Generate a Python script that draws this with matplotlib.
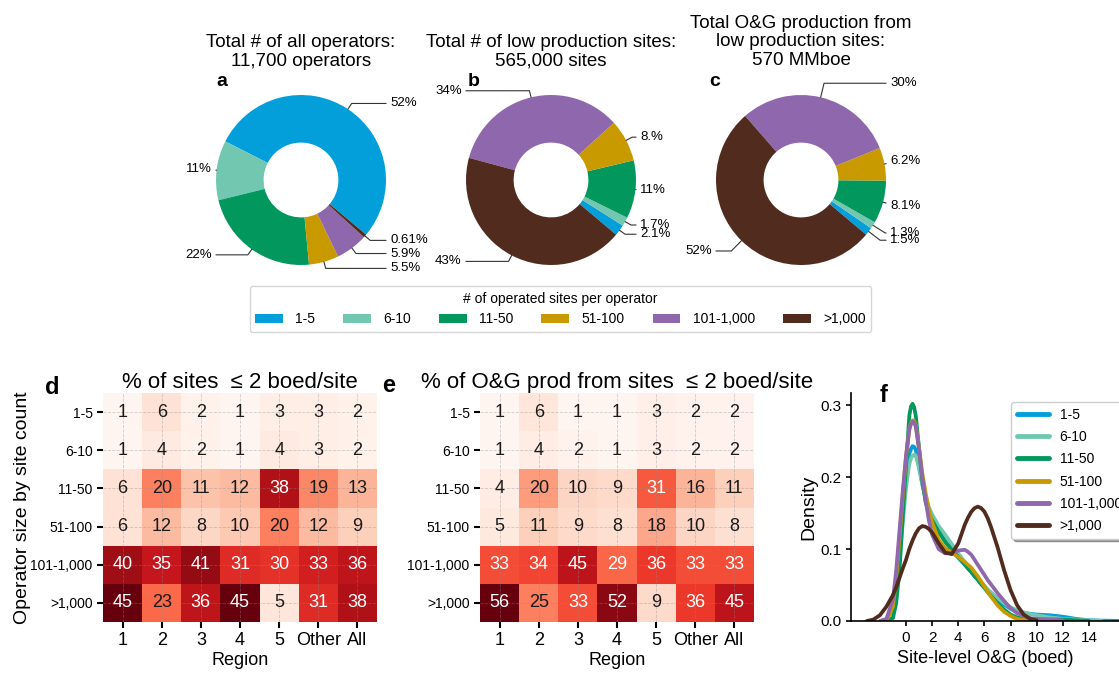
import numpy as np
import matplotlib
matplotlib.use("Agg")
import matplotlib.pyplot as plt
from matplotlib.patches import Patch

plt.rcParams['font.family'] = ['Liberation Sans', 'DejaVu Sans']

# ---- data ----
size_classes = ['1-5', '6-10', '11-50', '51-100', '101-1,000', '>1,000']
class_colors = ['#039fda', '#72c7b1', '#02985d', '#c99a00', '#8e67ac', '#512b1e']

share_operators = [52, 11, 22, 5.5, 5.9, 0.61]
share_sites = [2.1, 1.7, 11, 8, 34, 43]
share_production = [1.5, 1.3, 8.1, 6.2, 30, 52]

pie_titles = [
    'Total # of all operators:\n11,700 operators',
    'Total # of low production sites:\n565,000 sites',
    'Total O&G production from\nlow production sites:\n570 MMboe',
]

regions = ['1', '2', '3', '4', '5', 'Other', 'All']

pct_sites_low = [
    [1, 6, 2, 1, 3, 3, 2],
    [1, 4, 2, 1, 4, 3, 2],
    [6, 20, 11, 12, 38, 19, 13],
    [6, 12, 8, 10, 20, 12, 9],
    [40, 35, 41, 31, 30, 33, 36],
    [45, 23, 36, 45, 5, 31, 38],
]
pct_prod_low = [
    [1, 6, 1, 1, 3, 2, 2],
    [1, 4, 2, 1, 3, 2, 2],
    [4, 20, 10, 9, 31, 16, 11],
    [5, 11, 9, 8, 18, 10, 8],
    [33, 34, 45, 29, 36, 33, 33],
    [56, 25, 33, 52, 9, 36, 45],
]

# site-level production density curves (boed)
nan = np.nan
boed = [-3, -2.5, -2, -1.5, -1,
        -0.75, -0.5, -0.25, 0, 0.25,
        0.375, 0.5, 0.625, 0.75, 1,
        1.25, 1.5, 1.75, 2, 2.5,
        3, 3.5, 4, 4.5, 4.75,
        5, 5.25, 5.5, 5.75, 6,
        6.25, 6.5, 7, 7.5, 8,
        8.5, 9, 9.5, 10, 11,
        12, 13, 14, 15, 16,
        16.5]
dens_1_5 = [nan, nan, nan, 0.0, 0.018,
            0.05, 0.095, 0.148, 0.195, 0.232,
            0.239, 0.243, 0.242, 0.238, 0.215,
            0.19, 0.17, 0.155, 0.142, 0.125,
            0.111, 0.099, 0.088, 0.078, 0.073,
            0.068, 0.063, 0.058, 0.053, 0.048,
            0.043, 0.039, 0.030, 0.023, 0.017,
            0.013, 0.011, 0.010, 0.009, 0.008,
            0.006, 0.003, 0.001, 0.0005, 0.0002,
            0.0001]
dens_6_10 = [nan, nan, nan, 0.0, 0.015,
             0.043, 0.085, 0.135, 0.185, 0.218,
             0.226, 0.230, 0.231, 0.230, 0.212,
             0.19, 0.172, 0.158, 0.148, 0.132,
             0.120, 0.107, 0.094, 0.082, 0.076,
             0.070, 0.064, 0.059, 0.054, 0.049,
             0.044, 0.040, 0.032, 0.025, 0.019,
             0.015, 0.012, 0.010, 0.008, 0.005,
             0.003, 0.002, 0.001, 0.0, nan,
             nan]
dens_11_50 = [nan, nan, nan, 0.0, 0.004,
              0.025, 0.07, 0.145, 0.215, 0.285,
              0.298, 0.302, 0.297, 0.285, 0.24,
              0.195, 0.165, 0.15, 0.14, 0.124,
              0.11, 0.099, 0.089, 0.079, 0.073,
              0.068, 0.062, 0.057, 0.051, 0.046,
              0.040, 0.035, 0.025, 0.016, 0.009,
              0.005, 0.003, 0.002, 0.002, 0.002,
              0.002, 0.001, 0.0, nan, nan,
              nan]
dens_51_100 = [nan, nan, nan, 0.0, 0.02,
               0.06, 0.115, 0.175, 0.228, 0.266,
               0.275, 0.279, 0.278, 0.272, 0.24,
               0.205, 0.178, 0.155, 0.137, 0.113,
               0.101, 0.095, 0.089, 0.082, 0.078,
               0.074, 0.068, 0.062, 0.055, 0.048,
               0.041, 0.034, 0.022, 0.013, 0.007,
               0.003, 0.0015, 0.001, 0.0005, 0.0,
               nan, nan, nan, nan, nan,
               nan]
dens_101_1000 = [nan, nan, 0.0, 0.003, 0.03,
                 0.07, 0.125, 0.18, 0.23, 0.266,
                 0.274, 0.277, 0.276, 0.27, 0.238,
                 0.2, 0.168, 0.14, 0.12, 0.1,
                 0.094, 0.095, 0.098, 0.099, 0.096,
                 0.092, 0.085, 0.078, 0.071, 0.064,
                 0.057, 0.051, 0.039, 0.028, 0.018,
                 0.011, 0.007, 0.004, 0.003, 0.002,
                 0.001, nan, nan, nan, nan,
                 nan]
dens_over_1000 = [0.0, 0.002, 0.008, 0.02, 0.036,
                  0.047, 0.06, 0.073, 0.085, 0.1,
                  0.106, 0.112, 0.117, 0.122, 0.129,
                  0.132, 0.131, 0.128, 0.123, 0.108,
                  0.095, 0.093, 0.108, 0.134, 0.144,
                  0.152, 0.157, 0.159, 0.157, 0.152,
                  0.143, 0.131, 0.103, 0.071, 0.043,
                  0.022, 0.009, 0.003, 0.001, nan,
                  nan, nan, nan, nan, nan,
                  nan]
densities = [dens_1_5, dens_6_10, dens_11_50, dens_51_100, dens_101_1000, dens_over_1000]

# ---- layout helpers ----
W, H = 1119, 674
fig = plt.figure(figsize=(W / 100, H / 100), dpi=100)


def px_axes(left, top, right, bottom):
    return fig.add_axes([left / W, 1 - bottom / H, (right - left) / W, (bottom - top) / H])


def pct_label(v):
    s = f"{v:#.2g}".rstrip("0")
    if v >= 10:
        s = s.rstrip(".")
    return s + "%"


# ---- donut charts ----
pie_centers = [301, 551, 801]
pie_r = 85
title_y = [52, 52, 42]
label_yfac = [1.08, 1.08, 1.17]
letters = ['a', 'b', 'c']
letter_pos = [(222, 81), (474, 81), (715, 82)]

for k, vals in enumerate([share_operators, share_sites, share_production]):
    cx = pie_centers[k]
    ax = px_axes(cx - pie_r, 180 - pie_r, cx + pie_r, 180 + pie_r)
    wedges, _ = ax.pie(vals, colors=class_colors, startangle=-40, counterclock=True,
                       wedgeprops=dict(width=0.56, linewidth=0))
    ax.set_xlim(-1, 1)
    ax.set_ylim(-1, 1)
    ax.set_aspect('equal')
    for w, v in zip(wedges, vals):
        ang = (w.theta1 + w.theta2) / 2
        x, y = np.cos(np.deg2rad(ang)), np.sin(np.deg2rad(ang))
        ha = 'left' if x > 0 else 'right'
        ax.annotate(pct_label(v), xy=(x, y), xytext=(1.05 * np.sign(x), label_yfac[k] * y),
                    ha=ha, va='center', fontsize=9.5,
                    arrowprops=dict(arrowstyle='-', color='0.2', lw=0.8, shrinkA=1, shrinkB=0,
                                    connectionstyle=f"angle,angleA=0,angleB={ang}"))
    fig.text(cx / W, 1 - title_y[k] / H, pie_titles[k], ha='center', va='center',
             fontsize=13.5, linespacing=1.1)
    lx, ly = letter_pos[k]
    fig.text(lx / W, 1 - ly / H, letters[k], ha='center', va='center',
             fontsize=14, fontweight='bold')

handles = [Patch(facecolor=c, edgecolor='none') for c in class_colors]
fig.legend(handles, size_classes, loc='center', bbox_to_anchor=(560.5 / W, 1 - 309 / H),
           ncol=6, title='# of operated sites per operator', fontsize=10, title_fontsize=10,
           handlelength=2.0, handleheight=0.7, columnspacing=2.0, handletextpad=0.9,
           frameon=True, borderpad=0.4)


# ---- heatmaps ----
def heatmap(ax, data, title):
    arr = np.array(data, dtype=float)
    vmin, vmax = arr.min(), arr.max()
    ax.pcolormesh(arr, cmap='Reds', vmin=vmin, vmax=vmax)
    ax.set_xlim(0, arr.shape[1])
    ax.set_ylim(arr.shape[0], 0)
    for i in range(arr.shape[0]):
        for j in range(arr.shape[1]):
            frac = (arr[i, j] - vmin) / (vmax - vmin)
            ax.text(j + 0.5, i + 0.5, f"{int(arr[i, j])}", ha='center', va='center',
                    fontsize=13, color='white' if frac > 0.505 else '0.1')
    ax.set_xticks(np.arange(arr.shape[1]) + 0.5)
    ax.set_xticklabels(regions)
    ax.set_yticks(np.arange(arr.shape[0]) + 0.5)
    ax.set_yticklabels(size_classes)
    ax.tick_params(axis='both', length=4, width=1.5)
    ax.tick_params(axis='x', labelsize=13)
    ax.tick_params(axis='y', labelsize=10)
    for s in ax.spines.values():
        s.set_visible(False)
    ax.grid(True, linestyle='--', linewidth=0.6, color='0.55', alpha=0.4)
    ax.set_axisbelow(False)
    ax.set_xlabel('Region', fontsize=13, labelpad=2)
    ax.set_title(title, fontsize=16, pad=3)


ax_d = px_axes(103, 393, 377, 622)
heatmap(ax_d, pct_sites_low, '% of sites  \u2264 2 boed/site')
ax_d.set_ylabel('Operator size by site count', fontsize=14)
ax_d.yaxis.set_label_coords(-0.263, 0.5)

ax_e = px_axes(480, 393, 754, 622)
heatmap(ax_e, pct_prod_low, '% of O&G prod from sites  \u2264 2 boed/site')

fig.text(52 / W, 1 - 388 / H, 'd', ha='center', va='center', fontsize=17, fontweight='bold')
fig.text(389 / W, 1 - 386 / H, 'e', ha='center', va='center', fontsize=17, fontweight='bold')

# ---- density curves ----
ax_f = px_axes(851, 393, 1119, 621)
for dens, c, lab in zip(densities, class_colors, size_classes):
    ax_f.plot(boed, dens, color=c, lw=2.7, label=lab,
              solid_capstyle='round', solid_joinstyle='round')
ax_f.set_xlim(-4.21, 16.3)
ax_f.set_ylim(0, 0.317)
ax_f.set_xticks(range(0, 15, 2))
ax_f.set_yticks([0, 0.1, 0.2, 0.3])
ax_f.tick_params(labelsize=11, length=3.5, width=1.2)
ax_f.spines['top'].set_visible(False)
ax_f.spines['right'].set_visible(False)
ax_f.spines['left'].set_linewidth(1.2)
ax_f.spines['bottom'].set_linewidth(1.2)
ax_f.set_xlabel('Site-level O&G (boed)', fontsize=13)
ax_f.set_ylabel('Density', fontsize=14, labelpad=2)
ax_f.legend(loc='upper left', bbox_to_anchor=(1011 / W, 1 - 402 / H),
            bbox_transform=fig.transFigure, fontsize=10, handlelength=2.3,
            labelspacing=0.6, shadow=True, fancybox=True, borderaxespad=0)
for line in ax_f.get_legend().get_lines():
    line.set_linewidth(3.5)
fig.text(884 / W, 1 - 396 / H, 'f', ha='center', va='center', fontsize=17, fontweight='bold')

fig.savefig('out.png', dpi=100)
